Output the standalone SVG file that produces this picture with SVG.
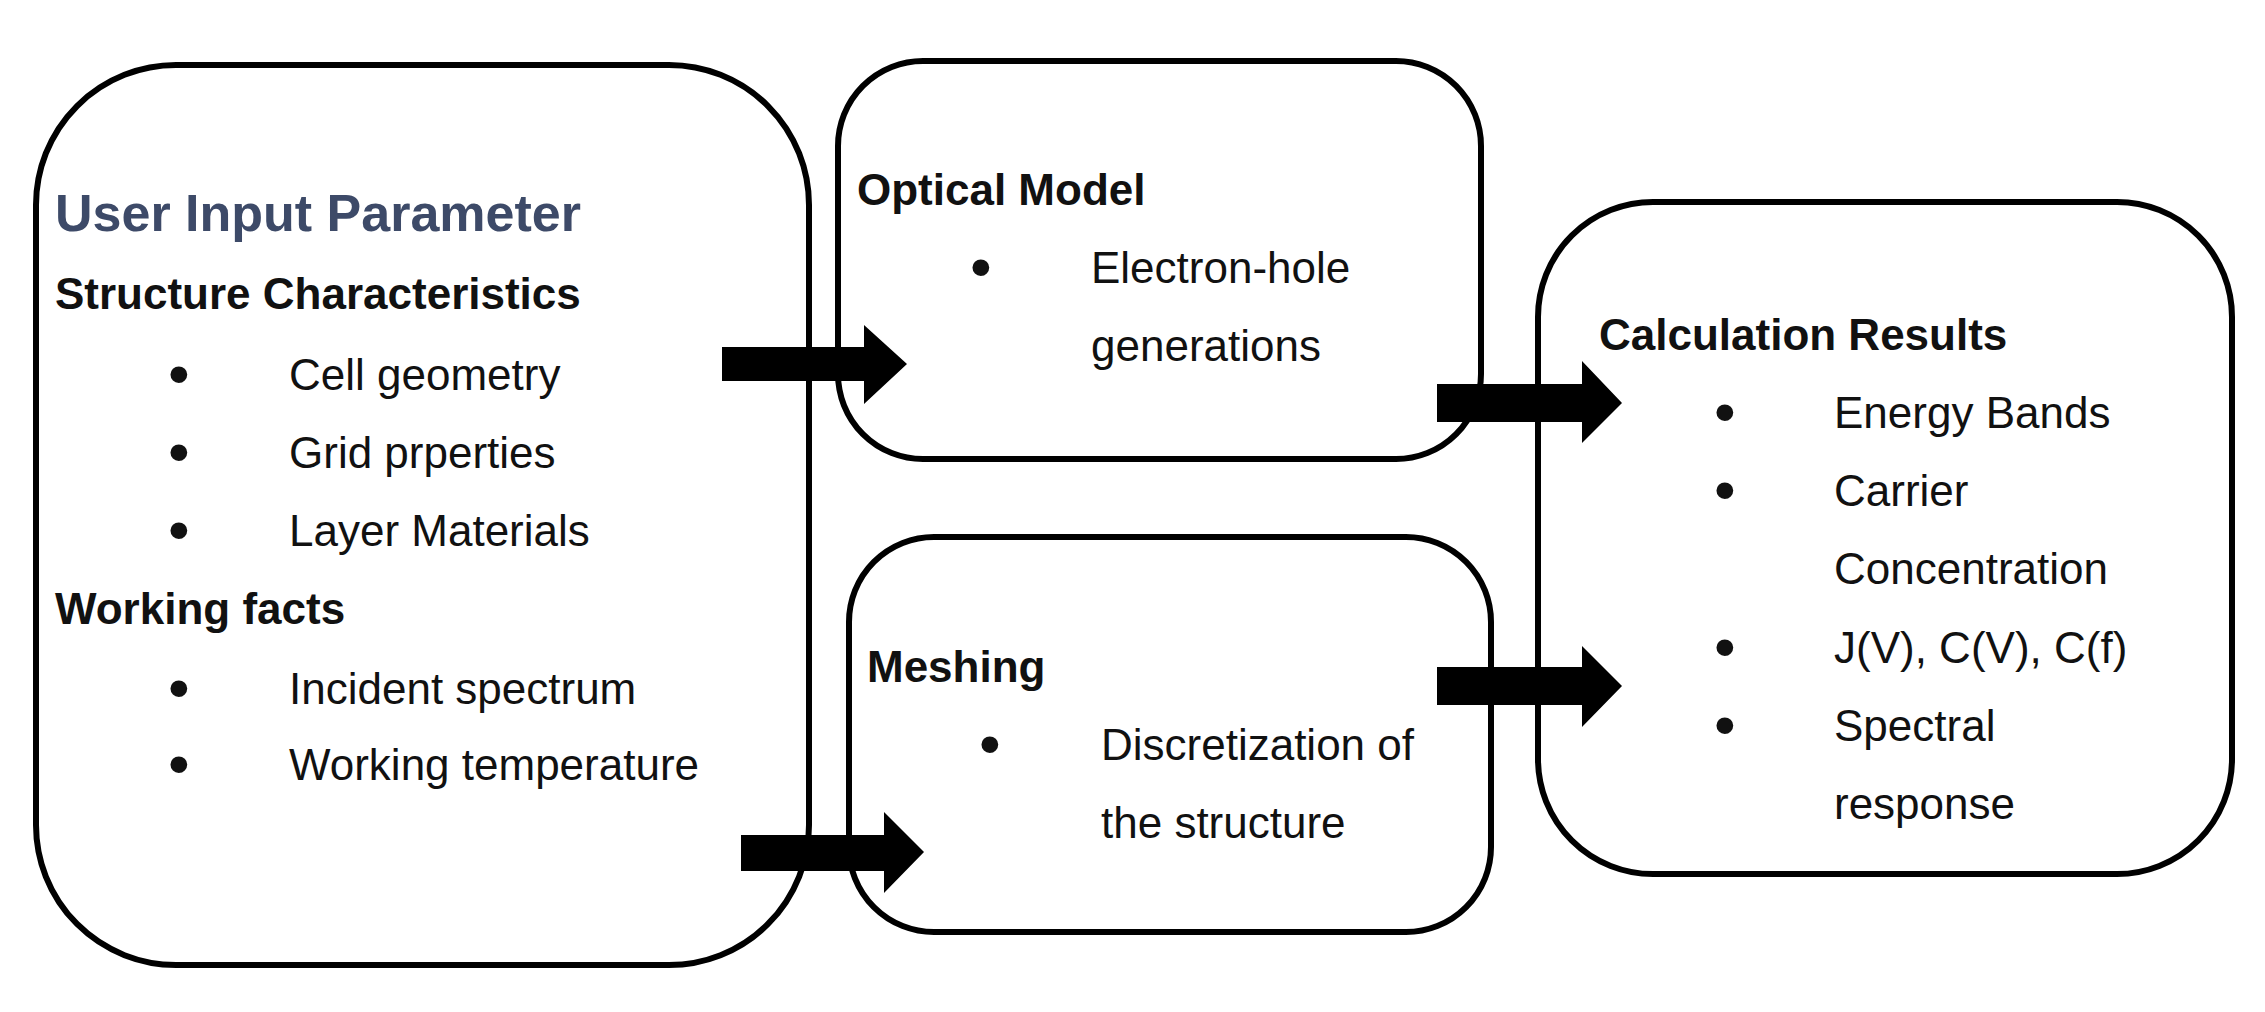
<svg xmlns="http://www.w3.org/2000/svg" width="2265" height="1012" viewBox="0 0 2265 1012">
<style>
.box{fill:#fff;stroke:#000;stroke-width:6}
text{font-family:"Liberation Sans",Arial,sans-serif;font-size:44px;fill:#111}
.h{font-weight:bold}
.t{font-weight:bold;font-size:52px;fill:#3d4a68}
.b{font-size:62px}
.ar{fill:#000}
</style>
<rect width="2265" height="1012" fill="#fff"/>
<g id="input">
<rect class="box" x="36" y="65" width="773" height="900" rx="140"/>
<text class="t" x="55" y="231">User Input Parameter</text>
<text class="h" x="55" y="309">Structure Characteristics</text>
<text class="b" x="168" y="395">•</text><text x="289" y="390">Cell geometry</text>
<text class="b" x="168" y="473">•</text><text x="289" y="468">Grid prperties</text>
<text class="b" x="168" y="551">•</text><text x="289" y="546">Layer Materials</text>
<text class="h" x="55" y="624">Working facts</text>
<text class="b" x="168" y="709">•</text><text x="289" y="704">Incident spectrum</text>
<text class="b" x="168" y="785">•</text><text x="289" y="780">Working temperature</text>
</g>
<g id="optical">
<rect class="box" x="838" y="61" width="643" height="398" rx="85"/>
<text class="h" x="857" y="205">Optical Model</text>
<text class="b" x="970" y="288">•</text><text x="1091" y="283">Electron-hole</text>
<text x="1091" y="361">generations</text>
</g>
<g id="meshing">
<rect class="box" x="849" y="537" width="642" height="395" rx="85"/>
<text class="h" x="867" y="682">Meshing</text>
<text class="b" x="979" y="765">•</text><text x="1101" y="760">Discretization of</text>
<text x="1101" y="838">the structure</text>
</g>
<g id="results">
<rect class="box" x="1538" y="202" width="694" height="672" rx="115"/>
<text class="h" x="1599" y="350">Calculation Results</text>
<text class="b" x="1714" y="433">•</text><text x="1834" y="428">Energy Bands</text>
<text class="b" x="1714" y="511">•</text><text x="1834" y="506">Carrier</text>
<text x="1834" y="584">Concentration</text>
<text class="b" x="1714" y="668">•</text><text x="1834" y="663">J(V), C(V), C(f)</text>
<text class="b" x="1714" y="746">•</text><text x="1834" y="741">Spectral</text>
<text x="1834" y="819">response</text>
</g>
<g id="connectors">
<polygon class="ar" points="722,347 864,347 864,325 907,364 864,404 864,381 722,381"/>
<polygon class="ar" points="741,835 884,835 884,812 924,852 884,893 884,871 741,871"/>
<polygon class="ar" points="1437,384 1582,384 1582,361 1622,403 1582,443 1582,422 1437,422"/>
<polygon class="ar" points="1437,667 1582,667 1582,646 1622,686 1582,727 1582,705 1437,705"/>
</g>
</svg>
